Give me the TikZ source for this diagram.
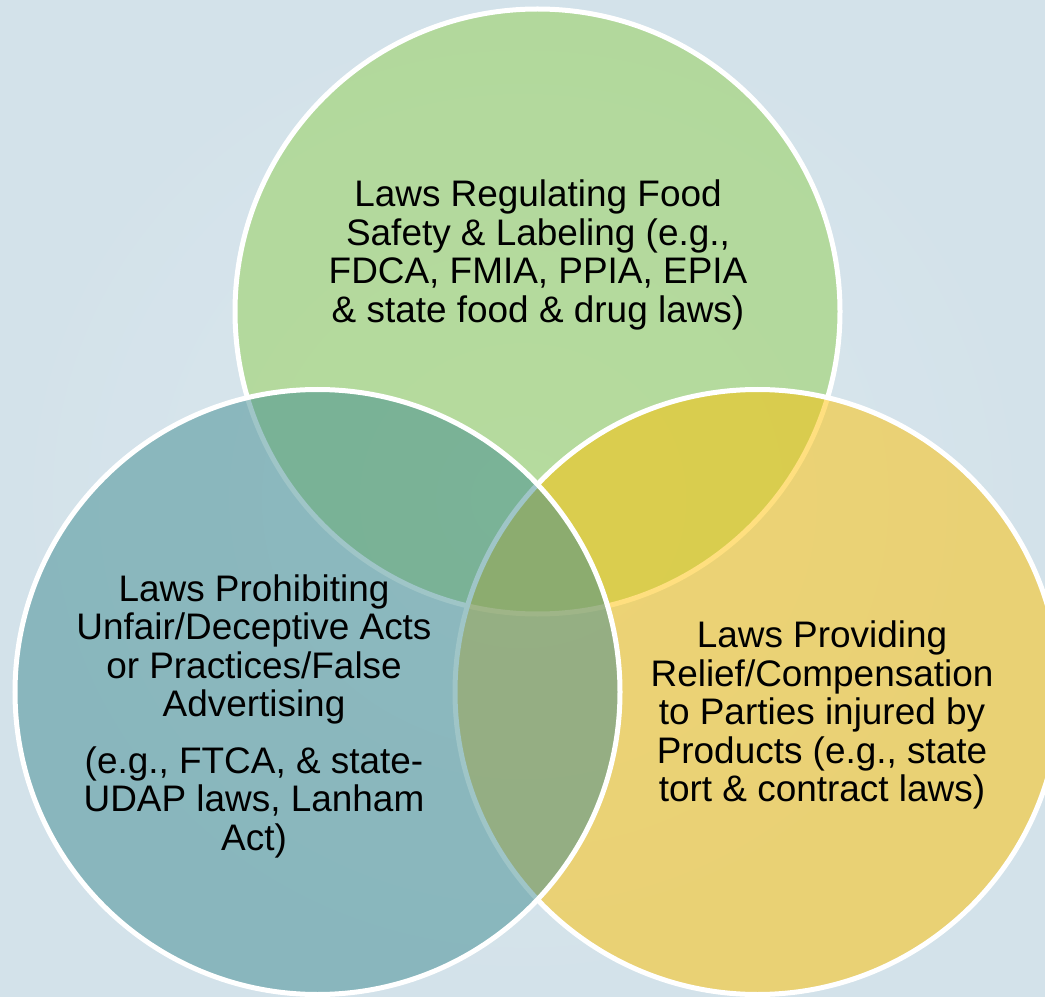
\documentclass[tikz,border=0pt]{standalone}
\usepackage{fontspec}
\setmainfont{Liberation Sans}
\usepackage{tikz}
\usepackage{xcolor}
\usetikzlibrary{positioning}

\definecolor{bginner}{RGB}{219,231,237}
\definecolor{bgouter}{RGB}{211,226,234}
\definecolor{foodgreen}{RGB}{146,208,80}
\definecolor{reliefgold}{RGB}{255,193,0}
\definecolor{udapteal}{RGB}{64,140,145}

\begin{document}
\begin{tikzpicture}[x=0.01cm, y=0.01cm]
\tikzstyle{venn}=[draw=white, line width=0.5mm, fill opacity=0.5]
\tikzstyle{lawtext}=[align=center, inner sep=0pt, text=black, font=\fontsize{10.5}{10.95}\selectfont]
\useasboundingbox (0,0) rectangle (1045,-997);
\clip (0,0) rectangle (1045,-997);
\shade [inner color=bginner, outer color=bgouter] (0,0) rectangle (1045,-997);
% circles, drawn in order green, gold, teal
\draw [venn, fill=foodgreen] (537.5,-311.5) circle (302.5);
\draw [venn, fill=reliefgold] (757.5,-692) circle (302.5);
\draw [venn, fill=udapteal] (317.5,-692) circle (302.5);
% labels
\node [lawtext] (food) at (538,-255) {Laws Regulating Food\\Safety \& Labeling (e.g.,\\FDCA, FMIA, PPIA, EPIA\\\& state food \& drug laws)};
\node [lawtext] (udap) at (254,-716) {Laws Prohibiting\\Unfair/Deceptive Acts\\or Practices/False\\Advertising\\[1.8mm](e.g., FTCA, \& state-\\UDAP laws, Lanham\\Act)};
\node [lawtext] (relief) at (822,-715) {Laws Providing\\Relief/Compensation\\to Parties injured by\\Products (e.g., state\\tort \& contract laws)};
\end{tikzpicture}
\end{document}
